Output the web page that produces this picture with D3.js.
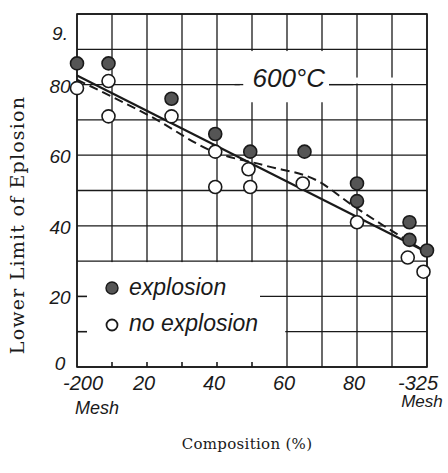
<!DOCTYPE html>
<html><head><meta charset="utf-8">
<script src="https://cdn.jsdelivr.net/npm/d3@7"></script>
<style>body{margin:0;background:#fff}svg{display:block}</style>
</head><body>
<svg id="chart" width="448" height="473"></svg>
<script>
// ---- data ----
const explosionX = [0, 9, 27, 39.5, 49.5, 65, 80, 80, 95, 95, 100];
const explosionY = [86, 86, 76, 66, 61, 61, 52, 47, 41, 36, 33];
const noExplosionX = [0, 9, 9, 27, 39.5, 39.5, 49, 49.5, 64.5, 80, 94.5, 99];
const noExplosionY = [79, 81, 71, 71, 61, 51, 56, 51, 52, 41, 31, 27];
const solidLineX = [0, 100];
const solidLineY = [82.6, 32.5];
const dashedLineX = [0, 21, 39, 54, 69, 78, 99];
const dashedLineY = [81.4, 71, 61, 57, 52.6, 46.3, 33];
const xTickValues = [0, 20, 40, 60, 80, 100];
const xTickLabels = ["-200", "20", "40", "60", "80", "-325"];
const yTickValues = [0, 20, 40, 60, 80, 95];
const yTickLabels = ["0", "20", "40", "60", "80", "9."];
const gridValues = d3.range(0, 101, 10);
const legendLabels = ["explosion", "no explosion"];
const annotation = "600°C";

const svg = d3.select("#chart");
const x = d3.scaleLinear().domain([0, 100]).range([77, 427]);
const y = d3.scaleLinear().domain([0, 100]).range([367, 14]);
const hand = "'Liberation Sans', sans-serif";
const serif = "'DejaVu Serif', serif";
const ink = "#1a1a1a";

// grid
const g = svg.append("g").attr("stroke", ink).attr("stroke-width", 1.3);
gridValues.forEach(v => {
  g.append("line").attr("x1", x(v)).attr("x2", x(v)).attr("y1", y(0)).attr("y2", y(100));
  g.append("line").attr("x1", x(0)).attr("x2", x(100)).attr("y1", y(v)).attr("y2", y(v));
});
// white areas: legend box and annotation box
svg.append("rect").attr("x", x(0) + 1).attr("y", y(30) + 1)
  .attr("width", x(52) - x(0)).attr("height", y(0) - y(30) - 2).attr("fill", "#fff");
svg.append("rect").attr("x", x(52)).attr("y", y(10) - 3)
  .attr("width", x(59.5) - x(52)).attr("height", 6).attr("fill", "#fff");
svg.append("rect").attr("x", x(46.5)).attr("y", y(89.5))
  .attr("width", x(72) - x(46.5)).attr("height", y(75) - y(89.5)).attr("fill", "#fff");
svg.append("rect").attr("x", x(79)).attr("y", y(82))
  .attr("width", x(100) - x(79) - 1).attr("height", 6).attr("fill", "#fff");
// annotation side dashes
svg.append("line").attr("x1", x(45)).attr("x2", x(47.5)).attr("y1", y(80)).attr("y2", y(80))
  .attr("stroke", ink).attr("stroke-width", 1.3);
svg.append("line").attr("x1", x(72)).attr("x2", x(79)).attr("y1", y(80)).attr("y2", y(80))
  .attr("stroke", ink).attr("stroke-width", 1.3);

// frame
const f = svg.append("g").attr("stroke", ink).attr("stroke-width", 1.6).attr("fill", "none");
f.append("rect").attr("x", x(0)).attr("y", y(100)).attr("width", x(100) - x(0)).attr("height", y(0) - y(100));
// small ticks inside legend area
[10, 20].forEach(v => f.append("line").attr("x1", x(0)).attr("x2", x(0) + 10).attr("y1", y(v)).attr("y2", y(v)));
[10, 20, 30, 40, 50].forEach(v => f.append("line").attr("x1", x(v)).attr("x2", x(v)).attr("y1", y(0)).attr("y2", y(0) - 5));

// fit lines
const line = d3.line().x(d => x(d[0])).y(d => y(d[1]));
svg.append("path").datum(solidLineX.map((v, i) => [v, solidLineY[i]]))
  .attr("d", line).attr("fill", "none").attr("stroke", ink).attr("stroke-width", 2.2);
svg.append("path").datum(dashedLineX.map((v, i) => [v, dashedLineY[i]]))
  .attr("d", d3.line().x(d => x(d[0])).y(d => y(d[1])).curve(d3.curveMonotoneX))
  .attr("fill", "none").attr("stroke", ink).attr("stroke-width", 2).attr("stroke-dasharray", "9,5");

// points
svg.append("g").selectAll("circle").data(noExplosionX.map((v, i) => [v, noExplosionY[i]]))
  .join("circle").attr("cx", d => x(d[0])).attr("cy", d => y(d[1])).attr("r", 6.5)
  .attr("fill", "#fff").attr("stroke", ink).attr("stroke-width", 1.6);
svg.append("g").selectAll("circle").data(explosionX.map((v, i) => [v, explosionY[i]]))
  .join("circle").attr("cx", d => x(d[0])).attr("cy", d => y(d[1])).attr("r", 6.5)
  .attr("fill", "#555").attr("stroke", ink).attr("stroke-width", 1.6);

// legend
svg.append("circle").attr("cx", 112).attr("cy", 288).attr("r", 6).attr("fill", "#555").attr("stroke", ink).attr("stroke-width", 1.4);
svg.append("circle").attr("cx", 112).attr("cy", 325).attr("r", 5.5).attr("fill", "#fff").attr("stroke", ink).attr("stroke-width", 1.8);
legendLabels.forEach((t, i) => svg.append("text").attr("x", 129).attr("y", 295 + i * 36)
  .attr("font-family", hand).attr("font-style", "italic").attr("font-size", 23).attr("fill", ink).text(t));

// annotation
svg.append("text").attr("x", x(60.5)).attr("y", 87).attr("text-anchor", "middle")
  .attr("font-family", hand).attr("font-style", "italic").attr("font-size", 26).attr("fill", ink).text(annotation);

// y tick labels
svg.append("g").selectAll("text").data(yTickValues).join("text")
  .attr("x", 60).attr("y", d => d === 0 ? y(d) + 3 : y(d) + 8).attr("text-anchor", "middle")
  .attr("font-family", hand).attr("font-style", "italic").attr("font-size", 19).attr("fill", ink)
  .text((d, i) => yTickLabels[i]);
// x tick labels
svg.append("g").selectAll("text").data(xTickValues).join("text")
  .attr("x", d => d === 0 ? x(d) + 6 : d === 100 ? x(d) - 9 : x(d) - 3)
  .attr("y", 390).attr("text-anchor", "middle")
  .attr("font-family", hand).attr("font-style", "italic").attr("font-size", 20).attr("fill", ink)
  .text((d, i) => xTickLabels[i]);
svg.append("text").attr("x", x(0) + 20).attr("y", 414).attr("text-anchor", "middle")
  .attr("font-family", hand).attr("font-style", "italic").attr("font-size", 18).attr("fill", ink).text("Mesh");
svg.append("text").attr("x", x(100) - 5).attr("y", 407).attr("text-anchor", "middle")
  .attr("font-family", hand).attr("font-style", "italic").attr("font-size", 17).attr("fill", ink).text("Mesh");

// axis titles
svg.append("text").attr("transform", "translate(24,225) rotate(-90)").attr("text-anchor", "middle")
  .attr("font-family", serif).attr("font-size", 19).attr("letter-spacing", 1.2).attr("fill", ink).text("Lower Limit of Eplosion");
svg.append("text").attr("x", 247).attr("y", 449).attr("text-anchor", "middle")
  .attr("font-family", serif).attr("font-size", 15).attr("letter-spacing", 0.3).attr("fill", ink).text("Composition (%)");
</script>
</body></html>
